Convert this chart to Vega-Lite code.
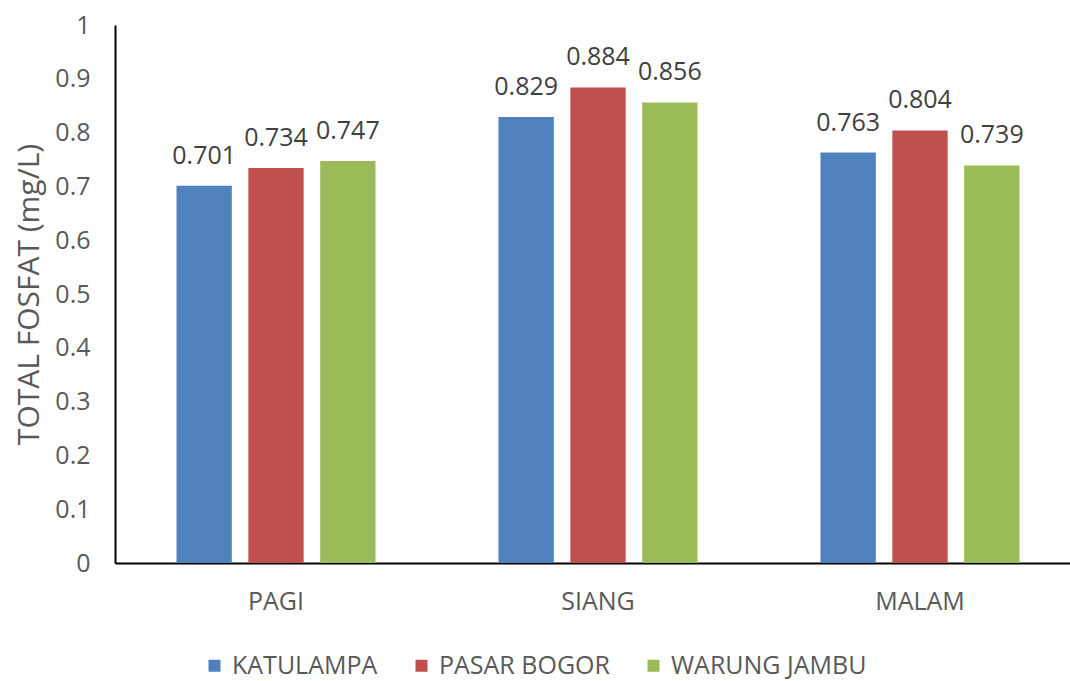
{
  "$schema": "https://vega.github.io/schema/vega-lite/v6.json",
  "autosize": "none",
  "width": 955,
  "height": 538,
  "padding": {"left": 115, "top": 25, "right": 0, "bottom": 118},
  "background": "white",
  "config": {
    "font": "Open Sans",
    "view": {"stroke": null},
    "axis": {"labelFont": "Open Sans", "titleFont": "Open Sans"},
    "legend": {"labelFont": "Open Sans"}
  },
  "data": {
    "values": [
      {"time": "PAGI", "site": "KATULAMPA", "value": 0.701},
      {"time": "PAGI", "site": "PASAR BOGOR", "value": 0.734},
      {"time": "PAGI", "site": "WARUNG JAMBU", "value": 0.747},
      {"time": "SIANG", "site": "KATULAMPA", "value": 0.829},
      {"time": "SIANG", "site": "PASAR BOGOR", "value": 0.884},
      {"time": "SIANG", "site": "WARUNG JAMBU", "value": 0.856},
      {"time": "MALAM", "site": "KATULAMPA", "value": 0.763},
      {"time": "MALAM", "site": "PASAR BOGOR", "value": 0.804},
      {"time": "MALAM", "site": "WARUNG JAMBU", "value": 0.739}
    ]
  },
  "encoding": {
    "x": {
      "field": "time", "type": "nominal", "sort": ["PAGI", "SIANG", "MALAM"],
      "scale": {"range": [0, 966], "paddingInner": 0.382, "paddingOuter": 0.191},
      "axis": {
        "title": null, "labelAngle": 0, "labelFontSize": 25, "labelColor": "#595959",
        "labelPadding": 26, "ticks": false, "domainColor": "#000000", "domainWidth": 2
      }
    },
    "xOffset": {
      "field": "site", "type": "nominal",
      "scale": {"paddingInner": 0.23, "paddingOuter": 0}
    },
    "y": {
      "field": "value", "type": "quantitative",
      "scale": {"domain": [0, 1], "nice": false},
      "axis": {
        "title": "TOTAL FOSFAT (mg/L)", "titleFontSize": 30, "titleFontWeight": "normal",
        "titleColor": "#595959", "titlePadding": 10,
        "values": [0, 0.1, 0.2, 0.3, 0.4, 0.5, 0.6, 0.7, 0.8, 0.9, 1],
        "format": "~g",
        "labelFontSize": 25, "labelColor": "#595959", "labelPadding": 25,
        "ticks": false, "grid": false, "domainColor": "#000000", "domainWidth": 2
      }
    }
  },
  "layer": [
    {
      "mark": {"type": "bar"},
      "encoding": {
        "color": {
          "field": "site", "type": "nominal",
          "scale": {"domain": ["KATULAMPA", "PASAR BOGOR", "WARUNG JAMBU"], "range": ["#4F81BD", "#C0504D", "#9BBB59"]},
          "legend": {
            "title": null, "orient": "none", "direction": "horizontal",
            "legendX": 87, "legendY": 628,
            "symbolType": "square", "symbolSize": 144, "symbolStrokeWidth": 0,
            "labelFontSize": 25, "labelColor": "#595959", "labelOffset": 5,
            "labelLimit": 400, "columnPadding": 31
          }
        }
      }
    },
    {
      "mark": {"type": "text", "baseline": "alphabetic", "dy": -22, "fontSize": 25, "color": "#404040"},
      "encoding": {
        "text": {"field": "value", "type": "quantitative", "format": ".3f"}
      }
    }
  ]
}
